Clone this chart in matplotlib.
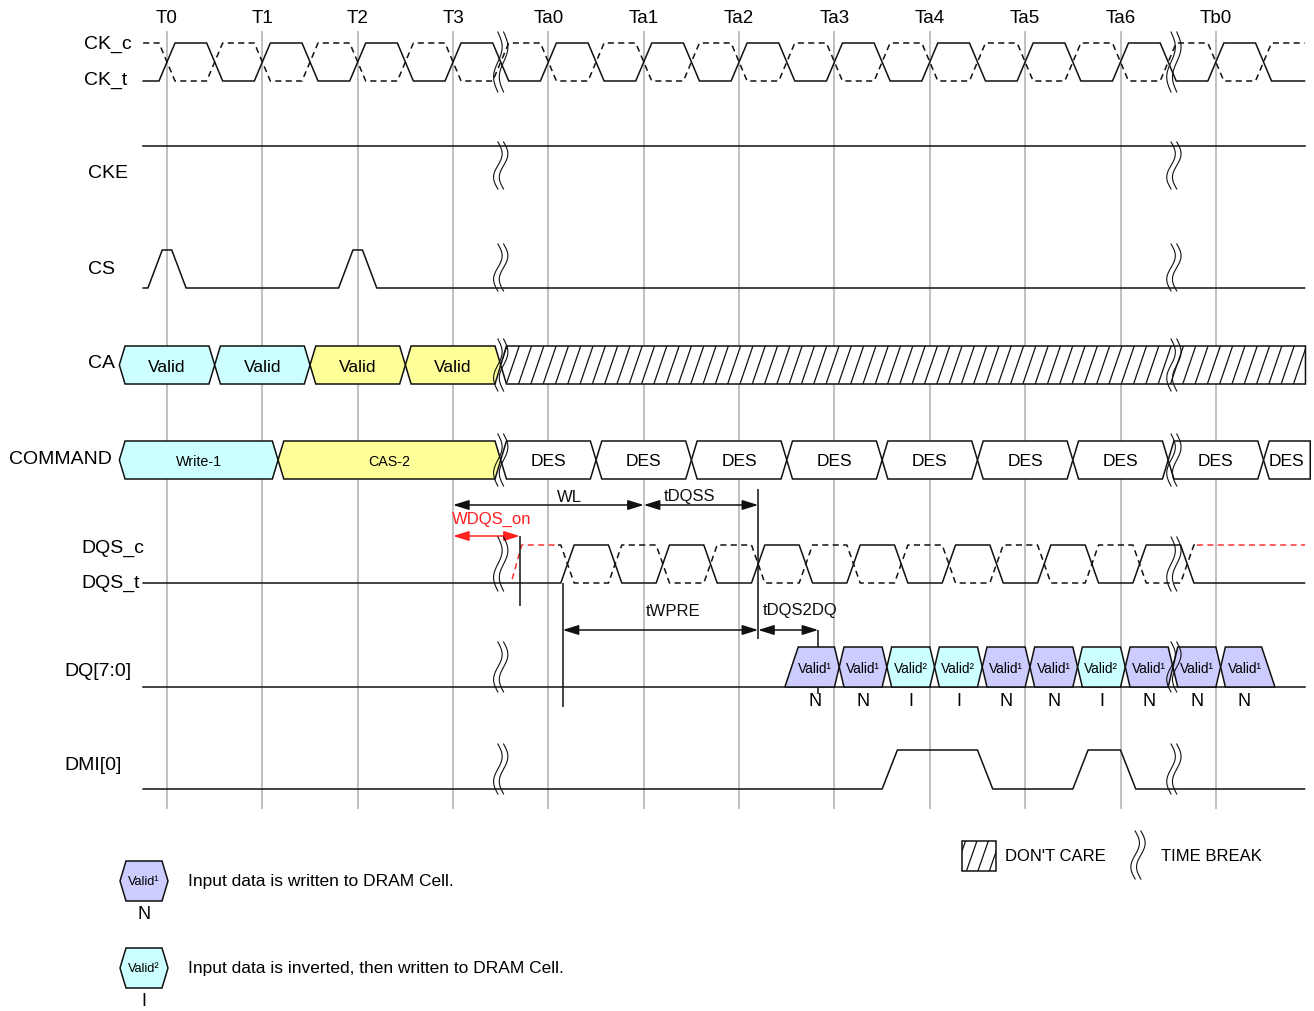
import numpy as np
import matplotlib.pyplot as plt
from matplotlib.patches import Polygon

# ---- data ----
edge_labels = ['T0', 'T1', 'T2', 'T3', 'Ta0', 'Ta1', 'Ta2', 'Ta3', 'Ta4', 'Ta5', 'Ta6', 'Tb0']
edge_pos = [0, 1, 2, 3, 4, 5, 6, 7, 8, 9, 10, 11]          # clock edges (compressed time axis)
break_pos = [3.5, 10.56]                                    # time breaks
trace_span = (-0.25, 11.93)

cs_pulses = [0, 2]

ca_text = ['Valid', 'Valid', 'Valid', 'Valid']
ca_edges = [-0.5, 0.5, 1.5, 2.5, 3.5]
ca_kind = ['w', 'w', 'c', 'c']
dont_care = (3.5, 11.94)

cmd_text = ['Write-1', 'CAS-2', 'DES', 'DES', 'DES', 'DES', 'DES', 'DES', 'DES', 'DES', 'DES']
cmd_edges = [-0.5, 1.165, 3.5, 4.5, 5.5, 6.5, 7.5, 8.5, 9.5, 10.5, 11.5, 11.99]
cmd_kind = ['w', 'c', 'n', 'n', 'n', 'n', 'n', 'n', 'n', 'n', 'n']

dqs_rise = [4.2, 5.2, 6.2, 7.2, 8.2, 9.2, 10.2]
dqs_fall = [4.7, 5.7, 6.7, 7.7, 8.7, 9.7, 10.7]
dqs_c_on = 3.62
dqs_c_off = 10.8

dq_text = ['Valid¹', 'Valid¹', 'Valid²', 'Valid²', 'Valid¹', 'Valid¹', 'Valid²', 'Valid¹', 'Valid¹', 'Valid¹']
dq_flag = ['N', 'N', 'I', 'I', 'N', 'N', 'I', 'N', 'N', 'N']
dq_bounds = [6.55, 7.05, 7.55, 8.05, 8.55, 9.05, 9.55, 10.05, 10.55, 11.05, 11.55]

arrow_names = ['WL', 'tDQSS', 'WDQS_on', 'tWPRE', 'tDQS2DQ']
arrow_start = [3.0, 5.0, 3.0, 4.15, 6.2]
arrow_end = [5.0, 6.2, 3.7, 6.2, 6.83]

# ---- layout (pixel rows) ----
X0, P = 167.0, 95.35
def tx(px):
    return (px - X0) / P

ROWS = {'ck': (44, 82), 'cke': (147, 190), 'cs': (251, 289), 'ca': (347, 385),
        'cmd': (442, 480), 'dqs': (546, 584), 'dq': (648, 688), 'dmi': (751, 790)}
BREAK_Y = {'ck': (33, 93), 'cke': (143, 190), 'cs': (245, 292), 'ca': (340, 392),
           'cmd': (435, 487), 'dqs': (538, 592), 'dq': (643, 693), 'dmi': (745, 795)}
FILL = {'w': '#ccffff', 'c': '#ffff99', 'n': 'white', 1: '#ccccff', 2: '#ccffff'}
INK = '#111111'
FONT = ['Liberation Sans', 'DejaVu Sans']
LW = 1.1

fig = plt.figure(figsize=(13.14, 10.12), dpi=100)
ax = fig.add_axes([0, 0, 1, 1])
ax.set_xlim(tx(0), tx(1314))
ax.set_ylim(1012, 0)
ax.axis('off')


def trace(edges, start, end, lvl0, h):
    xs, ys, lvl = [start], [lvl0], lvl0
    for t, new in sorted(edges):
        xs += [t - h, t + h]
        ys += [lvl, new]
        lvl = new
    xs.append(end)
    ys.append(lvl)
    return np.array(xs), np.array(ys)


def level_y(row, lv):
    hi, lo = ROWS[row]
    return lo - np.asarray(lv) * (lo - hi)


def cell(a, b, row, face, dl=0.06, dr=0.06, left='tip', right='tip', z=3):
    top, bot = ROWS[row]
    mid = (top + bot) / 2
    if left == 'tip':
        L = [(a + dl, bot), (a, mid), (a + dl, top)]
    elif left == 'slant':
        L = [(a - dl, bot), (a + dl, top)]
    else:
        L = [(a, bot), (a, top)]
    if right == 'tip':
        R = [(b - dr, top), (b, mid), (b - dr, bot)]
    elif right == 'slant':
        R = [(b - dr, top), (b + dr, bot)]
    else:
        R = [(b, top), (b, bot)]
    poly = Polygon(L + R, closed=True, facecolor=face, edgecolor=INK, lw=LW, zorder=z)
    ax.add_patch(poly)
    return poly


def hatch(patch, x0, x1, y_top, y_bot, step, slant):
    for x in np.arange(x0, x1, step):
        ln, = ax.plot([x, x + slant], [y_bot, y_top], color=INK, lw=0.9, zorder=4)
        ln.set_clip_path(patch)


def time_break(t, y0, y1):
    s = np.linspace(0, 1, 60)
    y = y0 + (y1 - y0) * s
    for off in (-0.03, 0.03):
        ax.plot(t + off + 0.045 * np.sin(2 * np.pi * s), y, color=INK, lw=0.8, zorder=7)


# grid lines and edge labels
ax.vlines(edge_pos, 32, 810, color='#b5b5b5', lw=1.2, zorder=0)
for t, lab in zip(edge_pos, edge_labels):
    ax.text(t, 18, lab, ha='center', va='center', fontsize=13.5, family=FONT)

# row labels
row_labels = [('CK_c', 84, 44), ('CK_t', 84, 80), ('CKE', 88, 173), ('CS', 88, 269),
              ('CA', 88, 363), ('COMMAND', 9, 460), ('DQS_c', 81, 548), ('DQS_t', 81, 583),
              ('DQ[7:0]', 64, 672), ('DMI[0]', 64, 765)]
for lab, px, py in row_labels:
    ax.text(tx(px), py, lab, ha='left', va='center', fontsize=14, family=FONT)

# CK
ck_t = [(t, 1) for t in edge_pos] + [(t + 0.5, 0) for t in edge_pos]
ck_c = [(t, 0) for t in edge_pos] + [(t + 0.5, 1) for t in edge_pos]
x, lv = trace(ck_t, *trace_span, 0, 0.084)
ax.plot(x, level_y('ck', lv), color=INK, lw=LW, zorder=3)
x, lv = trace(ck_c, *trace_span, 1, 0.084)
ax.plot(x, level_y('ck', lv), color=INK, lw=LW, ls=(0, (4, 2.8)), zorder=3)

# CKE
ax.plot(list(trace_span), level_y('cke', [1, 1]), color=INK, lw=LW)

# CS
cs_edges = [(c - 0.125, 1) for c in cs_pulses] + [(c + 0.125, 0) for c in cs_pulses]
x, lv = trace(cs_edges, *trace_span, 0, 0.075)
ax.plot(x, level_y('cs', lv), color=INK, lw=LW)

# CA
for i, txt in enumerate(ca_text):
    a, b = ca_edges[i], ca_edges[i + 1]
    cell(a, b, 'ca', FILL[ca_kind[i]])
    ax.text((a + b) / 2, 367, txt, ha='center', va='center', fontsize=12.5, family=FONT, zorder=5)
dc = cell(dont_care[0], dont_care[1], 'ca', 'white', right='square')
hatch(dc, dont_care[0] - 0.2, dont_care[1] + 0.1, 347, 385, 0.129, 0.136)

# COMMAND
for i, txt in enumerate(cmd_text):
    a, b = cmd_edges[i], cmd_edges[i + 1]
    last = i == len(cmd_text) - 1
    cell(a, b, 'cmd', FILL[cmd_kind[i]], right='square' if last else 'tip')
    size = 12.5 if txt == 'DES' else 10.3
    ax.text((a + b) / 2, 462, txt, ha='center', va='center', fontsize=size, family=FONT, zorder=5)

# DQS
dqs_t = [(t, 1) for t in dqs_rise] + [(t, 0) for t in dqs_fall]
dqs_c = [(t, 0) for t in dqs_rise] + [(t, 1) for t in dqs_fall]
x, lv = trace(dqs_t, *trace_span, 0, 0.07)
ax.plot(x, level_y('dqs', lv), color=INK, lw=LW, zorder=3)
x, lv = trace(dqs_c, dqs_rise[0] - 0.1, dqs_c_off, 1, 0.07)
ax.plot(x, level_y('dqs', lv), color=INK, lw=LW, ls=(0, (4, 2.8)), zorder=3)
ax.plot([dqs_c_on, dqs_c_on + 0.1, dqs_rise[0] - 0.1], level_y('dqs', [0.1, 1, 1]),
        color='#ff3333', lw=LW, ls=(0, (4, 2.8)), zorder=3)
ax.plot([dqs_c_off, trace_span[1]], level_y('dqs', [1, 1]),
        color='#ff3333', lw=LW, ls=(0, (4, 2.8)), zorder=3)

# timing arrows
arrow_y = [506, 506, 537, 631, 631]
label_xy = [(569, 497), (690, 496), (492, 519), (673, 611), (800, 611)]
for name, a, b, y, (lx, ly) in zip(arrow_names, arrow_start, arrow_end, arrow_y, label_xy):
    col = '#ff2020' if name == 'WDQS_on' else INK
    ax.annotate('', xy=(b, y), xytext=(a, y),
                arrowprops=dict(arrowstyle='<|-|>,head_length=0.8,head_width=0.25',
                                color=col, lw=LW, shrinkA=0, shrinkB=0, mutation_scale=12), zorder=6)
    ax.text(tx(lx), ly, name, ha='center', va='center', fontsize=12, family=FONT, color=col)

# reference markers
ax.vlines(arrow_end[2], 537, 607, color=INK, lw=LW, zorder=5)
ax.vlines(arrow_start[3], 584, 708, color=INK, lw=LW, zorder=5)
ax.vlines(arrow_end[1], 490, 640, color=INK, lw=LW, zorder=5)
ax.vlines(arrow_end[4], 631, 695, color=INK, lw=LW, zorder=2)

# DQ
ax.plot(list(trace_span), level_y('dq', [0, 0]), color=INK, lw=LW, zorder=2)
n = len(dq_text)
for i in range(n):
    a, b = dq_bounds[i], dq_bounds[i + 1]
    kind = 2 if dq_flag[i] == 'I' else 1
    first, last = i == 0, i == n - 1
    cell(a, b, 'dq', FILL[kind],
         dl=0.07 if first else 0.05, dr=0.07 if last else 0.05,
         left='slant' if first else 'tip', right='slant' if last else 'tip')
    ax.text((a + b) / 2, 669, dq_text[i], ha='center', va='center', fontsize=9.8, family=FONT, zorder=5)
    ax.text((a + b) / 2, 701, dq_flag[i], ha='center', va='center', fontsize=13, family=FONT)

# DMI
dmi_edges = []
for i in range(n):
    inv = dq_flag[i] == 'I'
    prev = dq_flag[i - 1] == 'I' if i > 0 else False
    if inv and not prev:
        dmi_edges.append((dq_bounds[i] + 0.03, 1))
    if prev and not inv:
        dmi_edges.append((dq_bounds[i] + 0.03, 0))
x, lv = trace(dmi_edges, *trace_span, 0, 0.08)
ax.plot(x, level_y('dmi', lv), color=INK, lw=LW)

# time breaks
for t in break_pos:
    for row, (y0, y1) in BREAK_Y.items():
        time_break(t, y0, y1)

# ---- legend ----
def legend_hex(px0, px1, y0, y1, face, label, flag, text):
    d = tx(px0 + 6) - tx(px0)
    pts = [(tx(px0) + d, y1), (tx(px0), (y0 + y1) / 2), (tx(px0) + d, y0),
           (tx(px1) - d, y0), (tx(px1), (y0 + y1) / 2), (tx(px1) - d, y1)]
    ax.add_patch(Polygon(pts, closed=True, facecolor=face, edgecolor=INK, lw=LW))
    cx = tx((px0 + px1) / 2)
    ax.text(cx, (y0 + y1) / 2, label, ha='center', va='center', fontsize=9.2, family=FONT)
    ax.text(cx, y1 + 13, flag, ha='center', va='center', fontsize=13, family=FONT)
    ax.text(tx(px1 + 20), (y0 + y1) / 2, text, ha='left', va='center', fontsize=12.5, family=FONT)

legend_hex(120, 168, 862, 902, FILL[1], 'Valid¹', 'N', 'Input data is written to DRAM Cell.')
legend_hex(120, 168, 949, 989, FILL[2], 'Valid²', 'I', 'Input data is inverted, then written to DRAM Cell.')

box = Polygon([(tx(962), 872), (tx(962), 842), (tx(996), 842), (tx(996), 872)],
              closed=True, facecolor='white', edgecolor=INK, lw=LW)
ax.add_patch(box)
hatch(box, tx(955), tx(1000), 842, 872, 0.12, 0.11)
ax.text(tx(1005), 857, "DON'T CARE", ha='left', va='center', fontsize=12, family=FONT)
time_break(tx(1138), 832, 880)
ax.text(tx(1161), 857, 'TIME BREAK', ha='left', va='center', fontsize=12, family=FONT)

fig.savefig('out.png', dpi=100)
